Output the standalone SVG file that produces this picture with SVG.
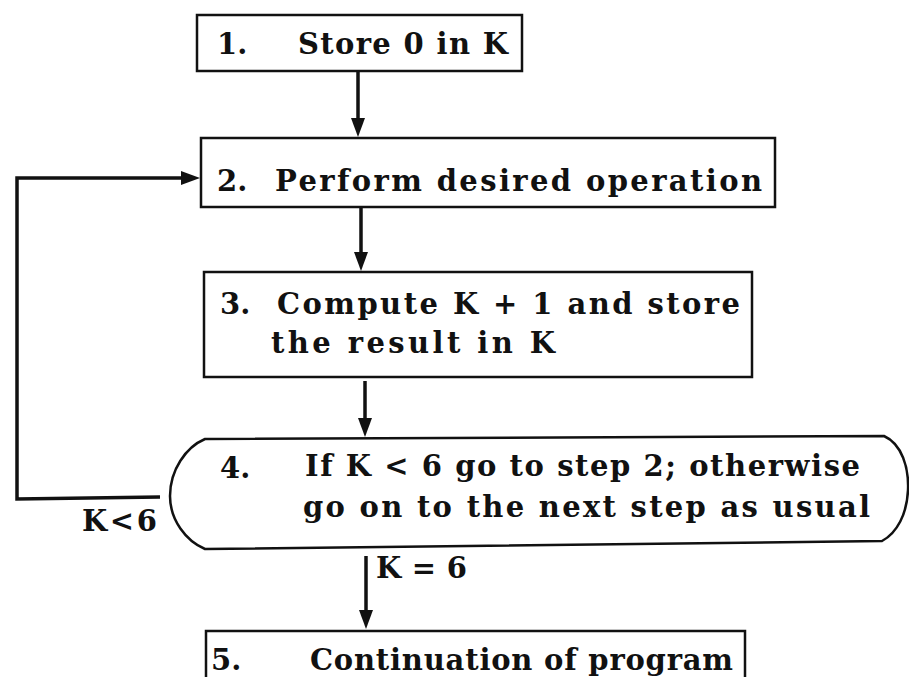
<svg xmlns="http://www.w3.org/2000/svg" width="909" height="677" viewBox="0 0 909 677">
<style>
.box{fill:none;stroke:#111;stroke-width:2.5}
.t{font-family:"DejaVu Serif","Liberation Serif",serif;font-size:29px;font-weight:bold;fill:#111}
.c{fill:none;stroke:#111;stroke-width:3.5}
.h{fill:#111}
</style>
<rect width="909" height="677" fill="#fff"/>
<g id="n1">
<rect class="box" x="197" y="15" width="325" height="56"/>
<text class="t" x="217" y="54">1.</text>
<text class="t" x="298" y="54" textLength="210" lengthAdjust="spacing">Store 0 in K</text>
</g>
<g id="n2">
<rect class="box" x="201" y="138" width="574" height="69"/>
<text class="t" x="217" y="191">2.</text>
<text class="t" x="275" y="191" textLength="487" lengthAdjust="spacing">Perform desired operation</text>
</g>
<g id="n3">
<rect class="box" x="204" y="272" width="548" height="105"/>
<text class="t" x="220" y="314">3.</text>
<text class="t" x="277" y="314" textLength="463" lengthAdjust="spacing">Compute K + 1 and store</text>
<text class="t" x="271" y="353" textLength="284" lengthAdjust="spacing">the result in K</text>
</g>
<g id="n4">
<path class="box" d="M205,439 L884,436 C902,444 909,468 908,490 C907,514 897,533 882,541 L205,549 C186,541 170,520 170,496 C170,470 186,447 205,439 Z"/>
<text class="t" x="220" y="478">4.</text>
<text class="t" x="305" y="476" textLength="555" lengthAdjust="spacing">If K &lt; 6 go to step 2; otherwise</text>
<text class="t" x="303" y="517" textLength="567" lengthAdjust="spacing">go on to the next step as usual</text>
</g>
<g id="n5">
<path class="box" d="M206,690 L206,631 L745,631 L745,690"/>
<text class="t" x="211" y="670">5.</text>
<text class="t" x="310" y="670" textLength="423" lengthAdjust="spacing">Continuation of program</text>
</g>
<g id="connectors">
<line class="c" x1="358" y1="71" x2="358" y2="120"/>
<polygon class="h" points="351,118 365,118 358,137"/>
<line class="c" x1="361" y1="208" x2="361" y2="254"/>
<polygon class="h" points="354,252 368,252 361,271"/>
<line class="c" x1="365" y1="381" x2="365" y2="420"/>
<polygon class="h" points="358,418 372,418 365,437"/>
<line class="c" x1="366" y1="556" x2="366" y2="612"/>
<polygon class="h" points="359,610 373,610 366,629"/>
<path class="c" d="M160,497 L17,499 L17,178 L184,178"/>
<polygon class="h" points="181,171 181,185 200,178"/>
<text class="t" x="82" y="531" textLength="75" lengthAdjust="spacing">K&lt;6</text>
<text class="t" x="376" y="578" textLength="91" lengthAdjust="spacing">K = 6</text>
</g>
</svg>
